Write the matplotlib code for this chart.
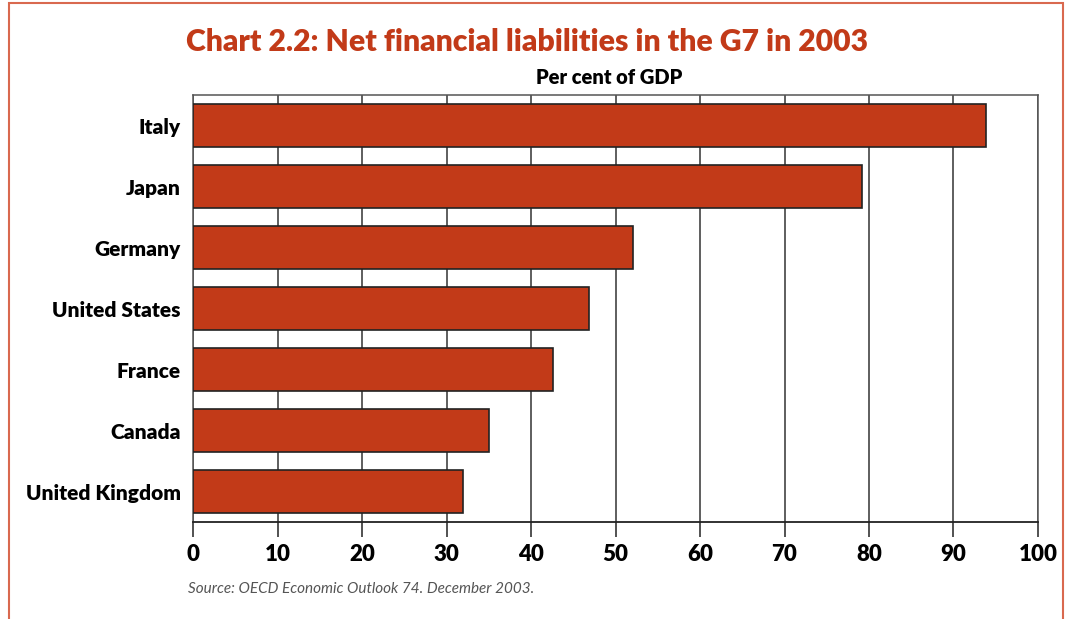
import matplotlib
matplotlib.use("Agg")
import matplotlib.pyplot as plt
from matplotlib.patches import Rectangle

ROUGE = '#C23A18'
CADRE = '#D9694F'

pays = ['Italy', 'Japan', 'Germany', 'United States', 'France', 'Canada', 'United Kingdom']
valeurs = [93.9, 79.2, 52.1, 46.9, 42.6, 35.0, 31.9]
graduations = [0, 10, 20, 30, 40, 50, 60, 70, 80, 90, 100]
etiquettes_x = ['0', '10', '20', '30', '40', '50', '60', '70', '80', '90', '100']

plt.rcParams['font.family'] = ['Lato', 'DejaVu Sans']

fig = plt.figure(figsize=(10.69, 6.19), dpi=100)
W, H = 1069, 619

# cadre autour du graphique (ouvert en bas)
fig.add_artist(Rectangle((9 / W, -0.05), (1063 - 9) / W, 1.05 - 3 / H,
                         transform=fig.transFigure, fill=False,
                         edgecolor=CADRE, linewidth=1.5))

ax = fig.add_axes([193 / W, 1 - 522 / H, (1038 - 193) / W, (522 - 95) / H])

y = list(range(len(pays)))
ax.barh(y, valeurs, height=0.705, color=ROUGE, edgecolor='#222222',
        linewidth=1.2, zorder=3)

ax.set_xlim(0, 100)
ax.set_ylim(len(pays) - 0.5, -0.5)
ax.set_xticks(graduations)
ax.set_xticklabels(etiquettes_x, fontsize=16, fontweight='heavy')
ax.set_yticks(y)
ax.set_yticklabels(pays, fontsize=15, fontweight='heavy')
ax.tick_params(axis='y', length=0, pad=9)
ax.tick_params(axis='x', length=11, width=1.2, color='#333333', pad=5)

ax.grid(axis='x', color='#333333', linewidth=1.1, zorder=1)
for cote in ['top', 'right', 'left']:
    ax.spines[cote].set_color('#555555')
    ax.spines[cote].set_linewidth(1.1)
ax.spines['bottom'].set_color('#222222')
ax.spines['bottom'].set_linewidth(1.3)

fig.text(527 / W, 1 - 42 / H, 'Chart 2.2: Net financial liabilities in the G7 in 2003',
         ha='center', va='center', fontsize=21.7, fontweight='heavy', color=ROUGE)
fig.text(609 / W, 1 - 77 / H, 'Per cent of GDP', ha='center', va='center',
         fontsize=14.5, fontweight='heavy', color='black')
fig.text(188 / W, 1 - 589 / H, 'Source: OECD Economic Outlook 74. December 2003.',
         ha='left', va='center', fontsize=11, style='italic', color='#555555')

fig.savefig('out.png', dpi=100, facecolor='white')
